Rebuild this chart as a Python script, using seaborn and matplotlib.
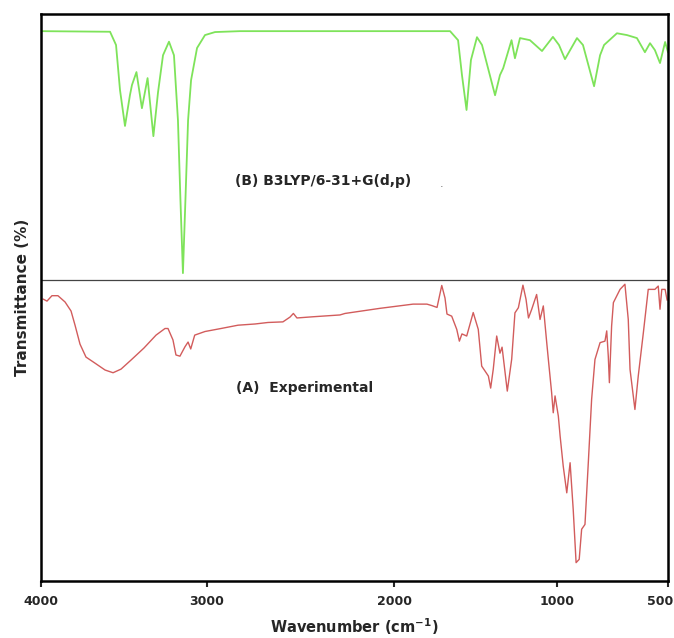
import numpy as np
import pandas as pd
import matplotlib
matplotlib.use("Agg")
import matplotlib.pyplot as plt
import matplotlib.transforms as mtransforms
import seaborn as sns

# ---- data ----
# computed spectrum (B3LYP/6-31+G(d,p)), transmittance above the divider
comp_wn = [4000, 3584, 3548, 3524, 3494, 3464, 3452, 3425, 3392, 3358, 3323, 3295,
           3265, 3229, 3199, 3175, 3160, 3145, 3130, 3114, 3096, 3060, 3012, 2957,
           2824, 1656, 1607, 1583, 1555, 1528, 1491, 1460, 1380, 1350, 1330, 1279,
           1258, 1227, 1166, 1092, 1025, 991, 964, 910, 883, 833, 806, 788, 730,
           685, 640, 604, 581, 559, 536, 513, 500]
comp_T = [82.7, 82.5, 78.1, 63.1, 51.2, 61.5, 64.8, 69.1, 57.1, 67.1, 47.8, 62.4,
          74.7, 79.2, 74.7, 53.1, 26.6, 2.3, 26.6, 53.1, 66.4, 77.1, 81.4, 82.4,
          82.7, 82.7, 79.7, 68.1, 56.5, 73.1, 80.7, 78.1, 61.4, 68.1, 70.4, 79.7,
          73.7, 80.4, 79.7, 76.1, 80.8, 78.1, 73.4, 80.4, 78.1, 64.4, 74.7, 78.1, 82.0,
          81.4, 80.4, 75.7, 78.7, 76.4, 72.1, 79.1, 75.7]

# experimental spectrum
exp_wn = [3988, 3964, 3934, 3898, 3855, 3819, 3795, 3765, 3729, 3675, 3614, 3566,
          3518, 3458, 3380, 3307, 3253, 3235, 3205, 3187, 3163, 3133, 3114, 3098,
          3074, 3012, 2925, 2834, 2743, 2674, 2594, 2556, 2538, 2519, 2433, 2289,
          2262, 2075, 1883, 1798, 1767, 1736, 1707, 1687, 1675, 1646, 1615, 1599,
          1583, 1554, 1514, 1483, 1462, 1442, 1421, 1407, 1391, 1370, 1350, 1337,
          1305, 1278, 1258, 1237, 1209, 1190, 1175, 1155, 1125, 1104, 1084, 1063,
          1053, 1033, 1023, 1012, 994, 986, 972, 956, 941, 927, 914, 900, 889, 874,
          859, 844, 829, 806, 784, 776, 769, 764, 754, 746, 716, 694, 679, 671, 649,
          634, 611, 589, 559, 544, 536, 528, 513, 504]
exp_T = [93.7, 93.0, 94.8, 94.8, 92.7, 89.7, 85.0, 78.7, 74.4, 72.4, 70.1, 69.2,
         70.4, 73.4, 77.4, 81.7, 83.9, 83.9, 80.1, 75.1, 74.7, 77.8, 79.4, 77.1,
         81.7, 82.9, 83.9, 85.0, 85.4, 85.9, 86.1, 87.7, 88.9, 87.4, 87.8, 88.4,
         88.9, 90.6, 92.0, 92.0, 91.5, 90.9, 98.2, 94.0, 88.7, 88.0, 83.6, 79.7,
         82.1, 81.4, 89.2, 83.6, 71.4, 69.8, 68.1, 64.1, 70.4, 81.4, 75.7, 77.7,
         63.1, 73.7, 89.1, 90.8, 98.3, 93.6, 87.4, 90.3, 95.2, 86.9, 91.4, 79.2,
         73.6, 62.6, 55.9, 61.5, 54.8, 48.2, 38.2, 29.3, 39.3, 23.8, 6.1, 7.2, 17.2, 18.8,
         39.3, 60.4, 73.6, 79.2, 79.7, 83.1, 74.7, 65.9, 84.7, 92.5, 96.9, 98.6, 86.9, 70.3, 57.0,
         68.1, 82.5, 96.9, 96.9, 98.0, 90.3, 96.9, 96.9, 93.3]

tick_vals = [4000, 3000, 2000, 1000, 500]
tick_labels = ["4000", "3000", "2000", "1000", "500"]
# the reference's axis is not evenly spaced: relative positions of the ticks
tick_pos = [627, 461, 274, 111, 0]

OFFSET = 100      # computed spectrum is stacked above the divider
DIVIDER = 100

comp_df = pd.DataFrame({"wn": comp_wn, "T": np.array(comp_T) + OFFSET})
exp_df = pd.DataFrame({"wn": exp_wn, "T": exp_T})

sns.set_style("white")
plt.rcParams["font.family"] = ["DejaVu Sans"]

fig = plt.figure(figsize=(6.74, 6.38), dpi=100)
ax = fig.add_axes([41 / 674, 1 - 581 / 638, 627 / 674, 567 / 638])

w_sorted = np.array(tick_vals[::-1], dtype=float)
u_sorted = np.array(tick_pos[::-1], dtype=float)

def fwd(w):
    return np.interp(w, w_sorted, u_sorted)

def inv(u):
    return np.interp(u, u_sorted, w_sorted)

ax.set_xscale("function", functions=(fwd, inv))

sns.lineplot(data=comp_df, x="wn", y="T", ax=ax, color="#7ee35a", lw=1.3,
             sort=False, estimator=None)
sns.lineplot(data=exp_df, x="wn", y="T", ax=ax, color="#d25c5c", lw=1.0,
             sort=False, estimator=None)

ax.axhline(DIVIDER, color="#444444", lw=0.9)

ax.set_xlim(4000, 500)
ax.set_ylim(0, 188.4)
ax.set_xticks(tick_vals)
ax.set_xticklabels(tick_labels, fontweight="bold", fontsize=9)
ax.set_yticks([])
ax.minorticks_off()
ax.tick_params(axis="x", direction="out", length=4, width=1.5, pad=6, bottom=True)

# keep the last label ("500") inside the figure, flush with the right edge
last = ax.get_xticklabels()[-1]
last.set_horizontalalignment("right")
last.set_transform(last.get_transform() +
                   mtransforms.ScaledTranslation(5 / 100, 0, fig.dpi_scale_trans))

for s in ax.spines.values():
    s.set_color("black")
    s.set_linewidth(1.8)

ax.set_xlabel(r"Wavenumber (cm$^{\mathbf{-1}}$)", fontweight="bold", fontsize=10.5, labelpad=6)
ax.set_ylabel("Transmittance (%)", fontweight="bold", fontsize=11, labelpad=8)

ax.text(0.31, 0.706, "(B) B3LYP/6-31+G(d,p)", transform=ax.transAxes,
        fontsize=10, fontweight="bold", ha="left", va="center")
ax.text(0.636, 0.700, ".", transform=ax.transAxes, fontsize=8, ha="left", va="center",
        color="#666666")
ax.text(0.311, 0.34, "(A)  Experimental", transform=ax.transAxes,
        fontsize=10, fontweight="bold", ha="left", va="center")

fig.savefig("out.png", dpi=100)
